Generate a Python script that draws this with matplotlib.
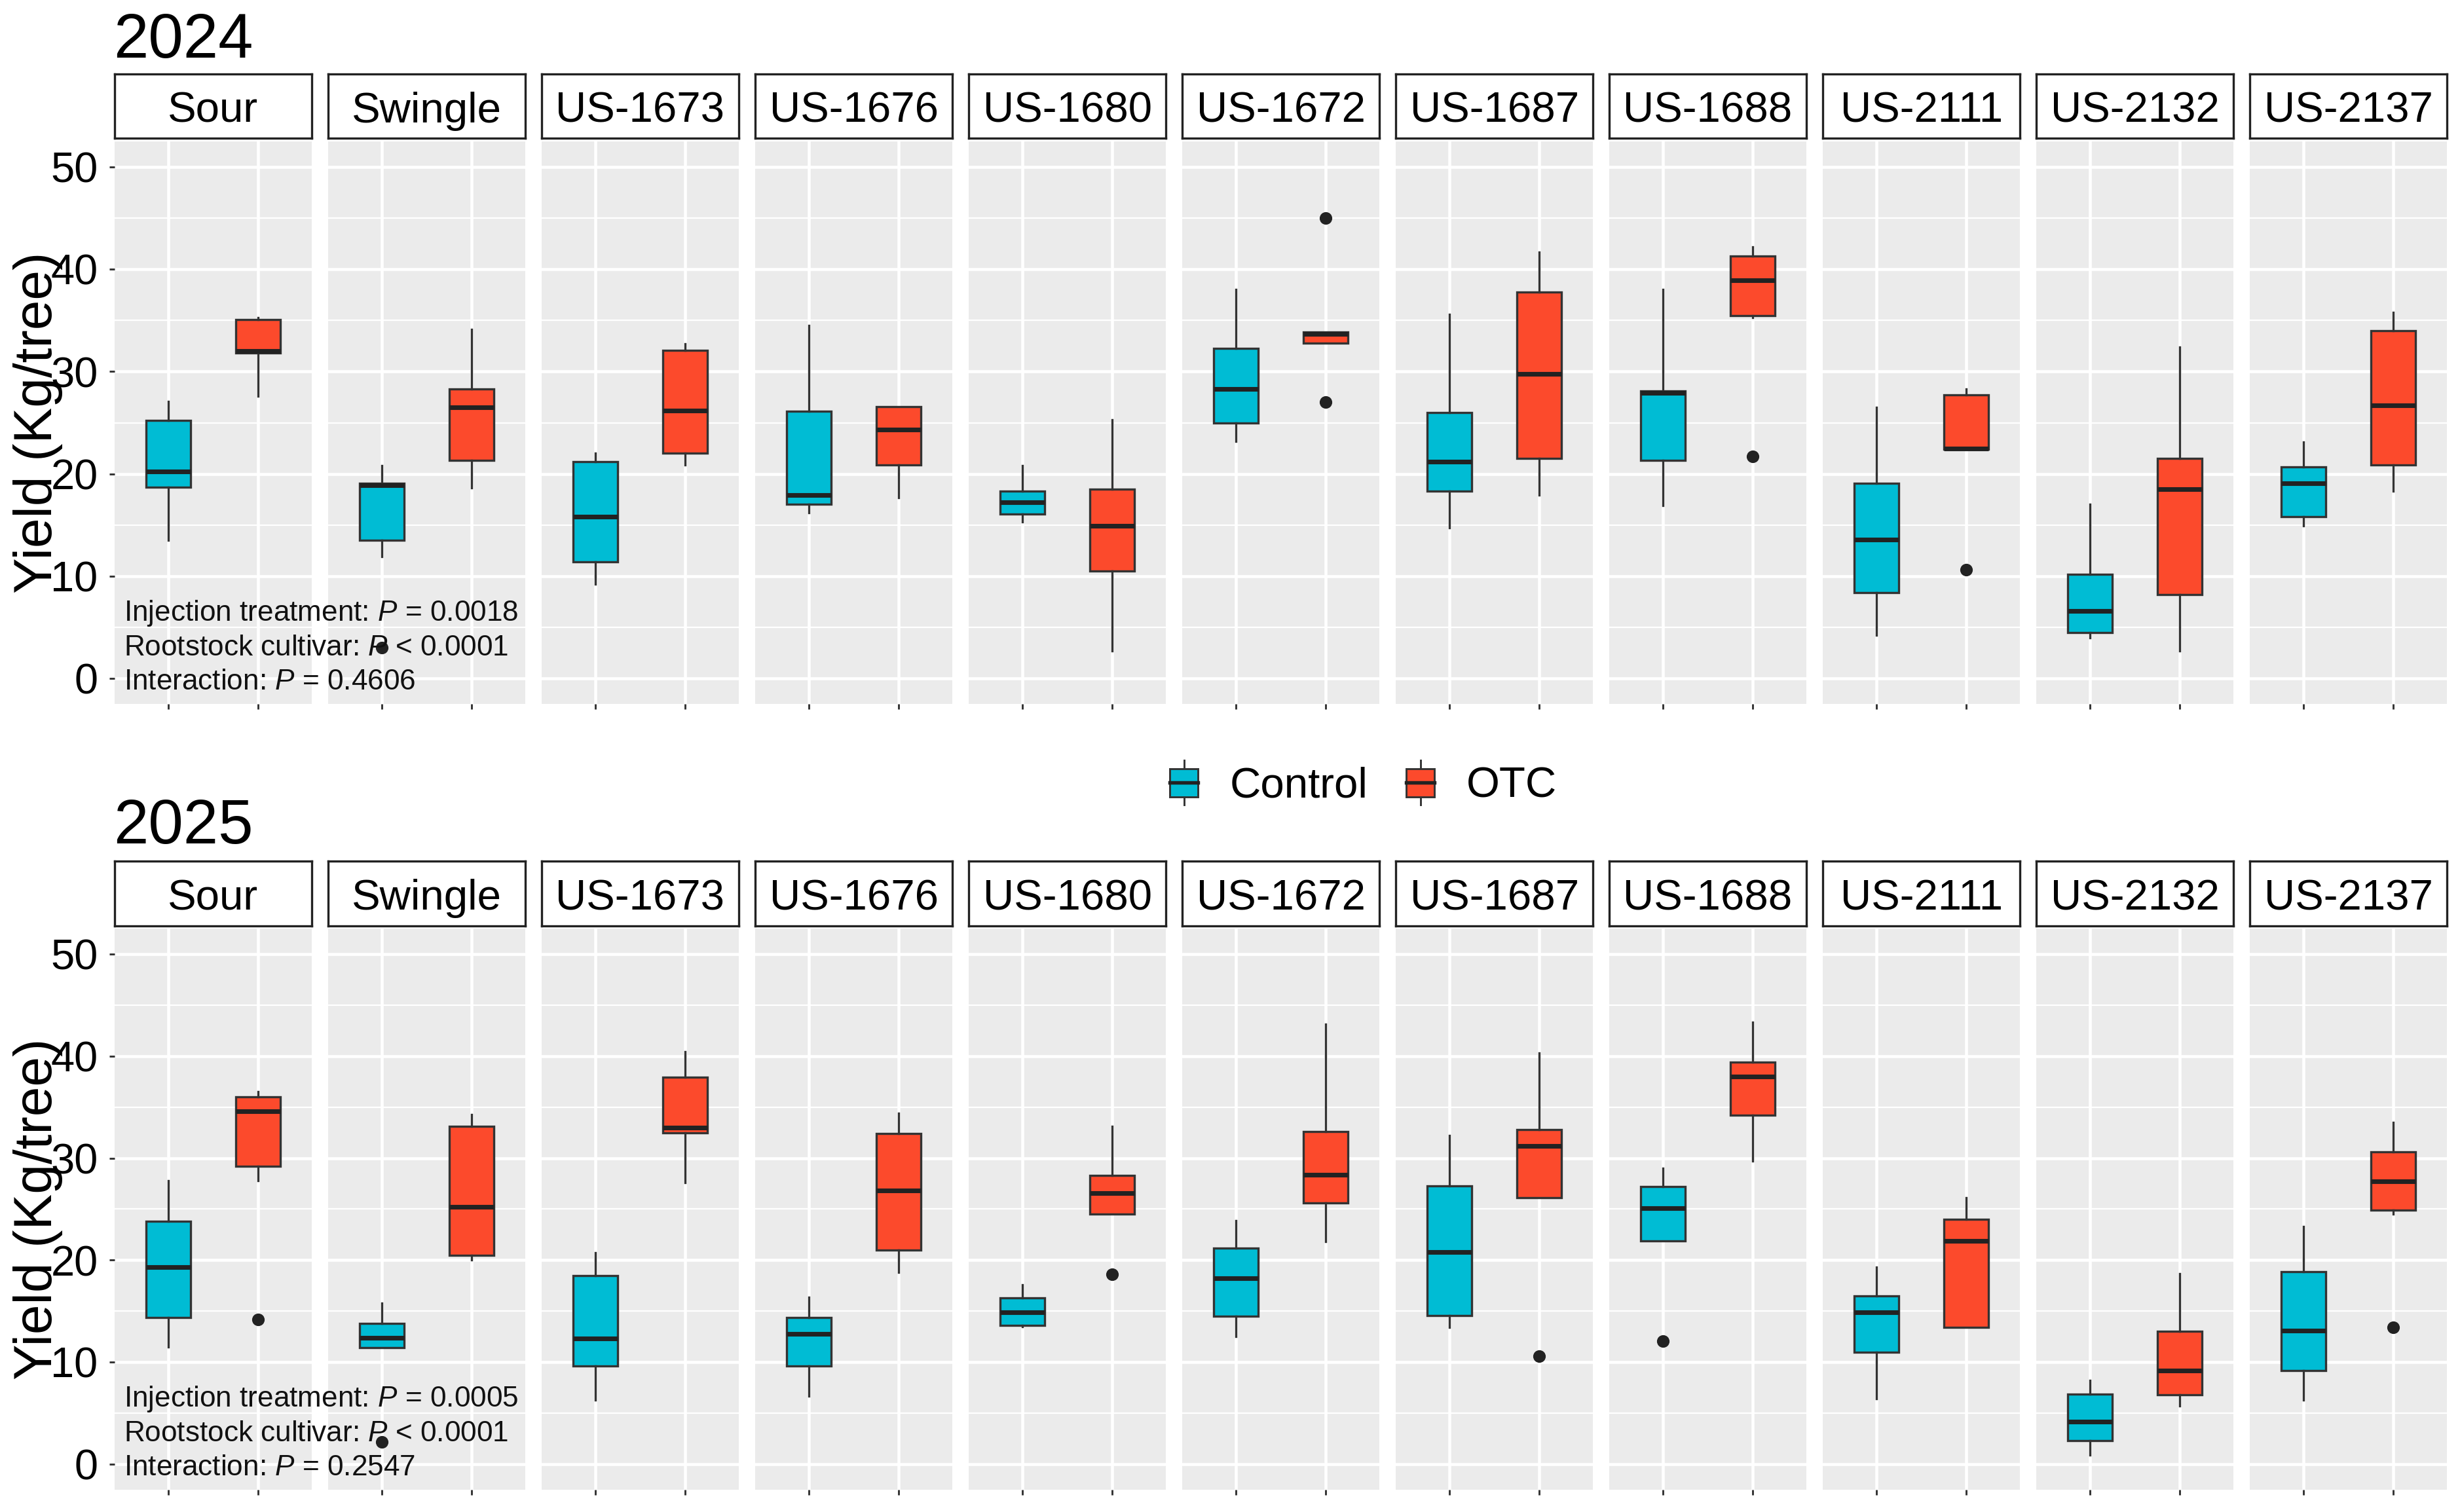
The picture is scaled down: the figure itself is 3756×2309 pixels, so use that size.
import matplotlib
matplotlib.use('Agg')
import matplotlib.pyplot as plt
from matplotlib import font_manager
from matplotlib.patches import Rectangle
from matplotlib.lines import Line2D
from matplotlib.legend_handler import HandlerBase

cultivars = ['Sour', 'Swingle', 'US-1673', 'US-1676', 'US-1680', 'US-1672',
             'US-1687', 'US-1688', 'US-2111', 'US-2132', 'US-2137']
treatments = ['Control', 'OTC']
colors = {'Control': '#00BCD4', 'OTC': '#FC4A2C'}

# 2024 - Control
c24_low = [13.5, 11.9, 9.2, 16.2, 15.3, 23.2, 14.7, 16.9, 4.2, 4.0, 14.9]
c24_q1 = [18.7, 13.5, 11.4, 17.0, 16.1, 25.0, 18.3, 21.3, 8.4, 4.5, 15.8]
c24_med = [20.2, 18.9, 15.8, 17.9, 17.2, 28.3, 21.2, 27.9, 13.6, 6.6, 19.1]
c24_q3 = [25.2, 19.1, 21.2, 26.1, 18.3, 32.3, 26.0, 28.1, 19.1, 10.2, 20.7]
c24_high = [27.1, 20.8, 22.0, 34.5, 20.8, 38.0, 35.6, 38.0, 26.5, 17.0, 23.1]
c24_out = {'Swingle': [3.0]}
# 2024 - OTC
o24_low = [27.6, 18.6, 20.9, 17.7, 2.7, 32.8, 17.9, 35.3, 22.4, 2.7, 18.3]
o24_q1 = [31.8, 21.3, 22.0, 20.9, 10.5, 32.8, 21.5, 35.5, 22.4, 8.2, 20.9]
o24_med = [32.0, 26.5, 26.2, 24.3, 14.9, 33.7, 29.8, 38.9, 22.5, 18.5, 26.7]
o24_q3 = [35.1, 28.3, 32.1, 26.6, 18.5, 33.9, 37.8, 41.3, 27.7, 21.5, 34.0]
o24_high = [35.3, 34.1, 32.7, 26.6, 25.3, 33.9, 41.7, 42.2, 28.3, 32.4, 35.8]
o24_out = {'US-1672': [45.0, 27.0], 'US-1688': [21.7], 'US-2111': [10.6]}

# 2025 - Control
c25_low = [11.5, 11.4, 6.3, 6.7, 13.5, 12.5, 13.4, 21.9, 6.4, 0.9, 6.3]
c25_q1 = [14.4, 11.4, 9.6, 9.6, 13.6, 14.5, 14.6, 21.9, 11.0, 2.3, 9.2]
c25_med = [19.3, 12.4, 12.3, 12.8, 14.9, 18.2, 20.8, 25.1, 14.9, 4.2, 13.1]
c25_q3 = [23.8, 13.8, 18.5, 14.4, 16.3, 21.2, 27.3, 27.2, 16.5, 6.9, 18.9]
c25_high = [27.8, 15.8, 20.7, 16.4, 17.6, 23.9, 32.2, 29.0, 19.3, 8.2, 23.3]
c25_out = {'Swingle': [2.2], 'US-1688': [12.1]}
# 2025 - OTC
o25_low = [27.8, 20.0, 27.6, 18.8, 24.5, 21.8, 26.1, 29.7, 13.4, 5.7, 24.5]
o25_q1 = [29.2, 20.5, 32.5, 21.0, 24.5, 25.6, 26.1, 34.2, 13.4, 6.8, 24.9]
o25_med = [34.6, 25.2, 33.0, 26.8, 26.6, 28.4, 31.2, 38.0, 21.9, 9.2, 27.7]
o25_q3 = [36.0, 33.1, 37.9, 32.4, 28.3, 32.6, 32.8, 39.4, 24.0, 13.0, 30.6]
o25_high = [36.5, 34.3, 40.4, 34.4, 33.1, 43.1, 40.3, 43.3, 26.1, 18.7, 33.5]
o25_out = {'Sour': [14.2], 'US-1680': [18.6], 'US-1687': [10.6], 'US-2137': [13.4]}

notes_2024 = ['Injection treatment: $\\mathit{P}$ = 0.0018',
              'Rootstock cultivar: $\\mathit{P}$ < 0.0001',
              'Interaction: $\\mathit{P}$ = 0.4606']
notes_2025 = ['Injection treatment: $\\mathit{P}$ = 0.0005',
              'Rootstock cultivar: $\\mathit{P}$ < 0.0001',
              'Interaction: $\\mathit{P}$ = 0.2547']

years = {
    '2024': ((c24_low, c24_q1, c24_med, c24_q3, c24_high, c24_out),
             (o24_low, o24_q1, o24_med, o24_q3, o24_high, o24_out), notes_2024),
    '2025': ((c25_low, c25_q1, c25_med, c25_q3, c25_high, c25_out),
             (o25_low, o25_q1, o25_med, o25_q3, o25_high, o25_out), notes_2025),
}

names = {f.name for f in font_manager.fontManager.ttflist}
note_font = 'Liberation Sans Narrow' if 'Liberation Sans Narrow' in names else 'Liberation Sans'
note_size = 12.8 if note_font == 'Liberation Sans Narrow' else 10.6

plt.rcParams['font.family'] = ['Liberation Sans', 'DejaVu Sans']
plt.rcParams['mathtext.fontset'] = 'custom'
plt.rcParams['mathtext.rm'] = note_font
plt.rcParams['mathtext.it'] = note_font + ':italic'

fig = plt.figure(figsize=(12.52, 7.697), dpi=300)

# layout (figure fractions)
left0, pw, step = 0.0466, 0.0801, 0.0868
rows = {'2024': (0.5344, 0.372, 0.9086, 0.0424, 0.9620),
        '2025': (0.0147, 0.3712, 0.3876, 0.0429, 0.4420)}

edge = '#333333'


def box_stats(t, i, cult):
    low, q1, med, q3, high, out = t
    return dict(whislo=low[i], q1=q1[i], med=med[i], q3=q3[i], whishi=high[i],
                fliers=out.get(cult, []))


for year, (ctrl, otc, notes) in years.items():
    pb, ph, sb, sh, ty = rows[year]
    fig.text(0.0462, ty, year, fontsize=23, ha='left', va='baseline')
    first_ax = None
    for i, cult in enumerate(cultivars):
        x0 = left0 + i * step
        ax = fig.add_axes([x0, pb, pw, ph])
        ax.set_facecolor('#EBEBEB')
        for s in ax.spines.values():
            s.set_visible(False)

        stats = [box_stats(ctrl, i, cult), box_stats(otc, i, cult)]
        bp = ax.bxp(stats, positions=[1, 2], widths=0.5, patch_artist=True,
                    showcaps=False, showfliers=True, manage_ticks=False,
                    boxprops=dict(edgecolor=edge, linewidth=0.8),
                    whiskerprops=dict(color=edge, linewidth=0.8),
                    medianprops=dict(color='#222222', linewidth=1.7),
                    flierprops=dict(marker='o', markerfacecolor='#222222',
                                    markeredgecolor='#222222', markersize=3.6))
        for patch, tr in zip(bp['boxes'], treatments):
            patch.set_facecolor(colors[tr])

        ax.set_xlim(0.4, 2.6)
        ax.set_ylim(-2.5, 52.5)
        ax.set_yticks([0, 10, 20, 30, 40, 50])
        ax.set_yticks([5, 15, 25, 35, 45], minor=True)
        ax.set_xticks([1, 2])
        ax.set_xticklabels(['', ''])
        ax.grid(which='major', color='white', linewidth=1.1)
        ax.grid(which='minor', axis='y', color='white', linewidth=0.55)
        ax.set_axisbelow(True)
        ax.tick_params(axis='x', length=1.9, width=0.7, color=edge)
        ax.tick_params(axis='y', which='minor', length=0)
        if i == 0:
            ax.tick_params(axis='y', which='major', length=1.9, width=0.7, color=edge,
                           labelsize=15.6, labelcolor='black', pad=4.2)
            first_ax = ax
        else:
            ax.tick_params(axis='y', which='major', length=0, labelleft=False)

        # strip
        sax = fig.add_axes([x0, sb, pw, sh])
        sax.set_facecolor('white')
        sax.set_xticks([])
        sax.set_yticks([])
        for s in sax.spines.values():
            s.set_color('#222222')
            s.set_linewidth(0.8)
        sax.text(0.5, 0.42, cult, fontsize=15.7, ha='center', va='center',
                 transform=sax.transAxes)

    # ANOVA notes in first facet (spill over into the next one)
    for line, yv in zip(notes, [6.4, 3.0, -0.35]):
        fig.text(0.5, yv, line, transform=first_ax.transData, fontsize=note_size,
                 family=note_font, ha='left', va='center', zorder=5, color='#111111')

    fig.text(0.0155, pb + ph / 2, 'Yield (Kg/tree)', rotation=90, fontsize=19.7,
             ha='center', va='center', zorder=6)


class BoxKey(HandlerBase):
    def create_artists(self, legend, orig_handle, xdescent, ydescent, width, height,
                       fontsize, trans):
        x0, y0 = -xdescent, -ydescent
        bx, bw = x0 + 0.17 * width, 0.66 * width
        by, bh = y0 + 0.13 * height, 0.74 * height
        xm = x0 + 0.5 * width
        wl = Line2D([xm, xm], [y0 - 0.08 * height, y0 + 1.08 * height], color=edge,
                    linewidth=0.7, transform=trans)
        rect = Rectangle((bx, by), bw, bh, facecolor=orig_handle.get_facecolor(),
                         edgecolor=edge, linewidth=0.7, transform=trans)
        med = Line2D([bx, bx + bw], [y0 + 0.5 * height] * 2, color='#222222',
                     linewidth=1.3, transform=trans)
        return [wl, rect, med]


handles = [Rectangle((0, 0), 1, 1, facecolor=colors[t]) for t in treatments]
fig.legend(handles, treatments, loc='center', bbox_to_anchor=(0.5527, 0.481), ncol=2,
           frameon=False, fontsize=15.7, handlelength=1.0, handleheight=1.0,
           handletextpad=0.57, columnspacing=0.72, borderpad=0,
           handler_map={Rectangle: BoxKey()})

fig.savefig('out.png', dpi=300)
